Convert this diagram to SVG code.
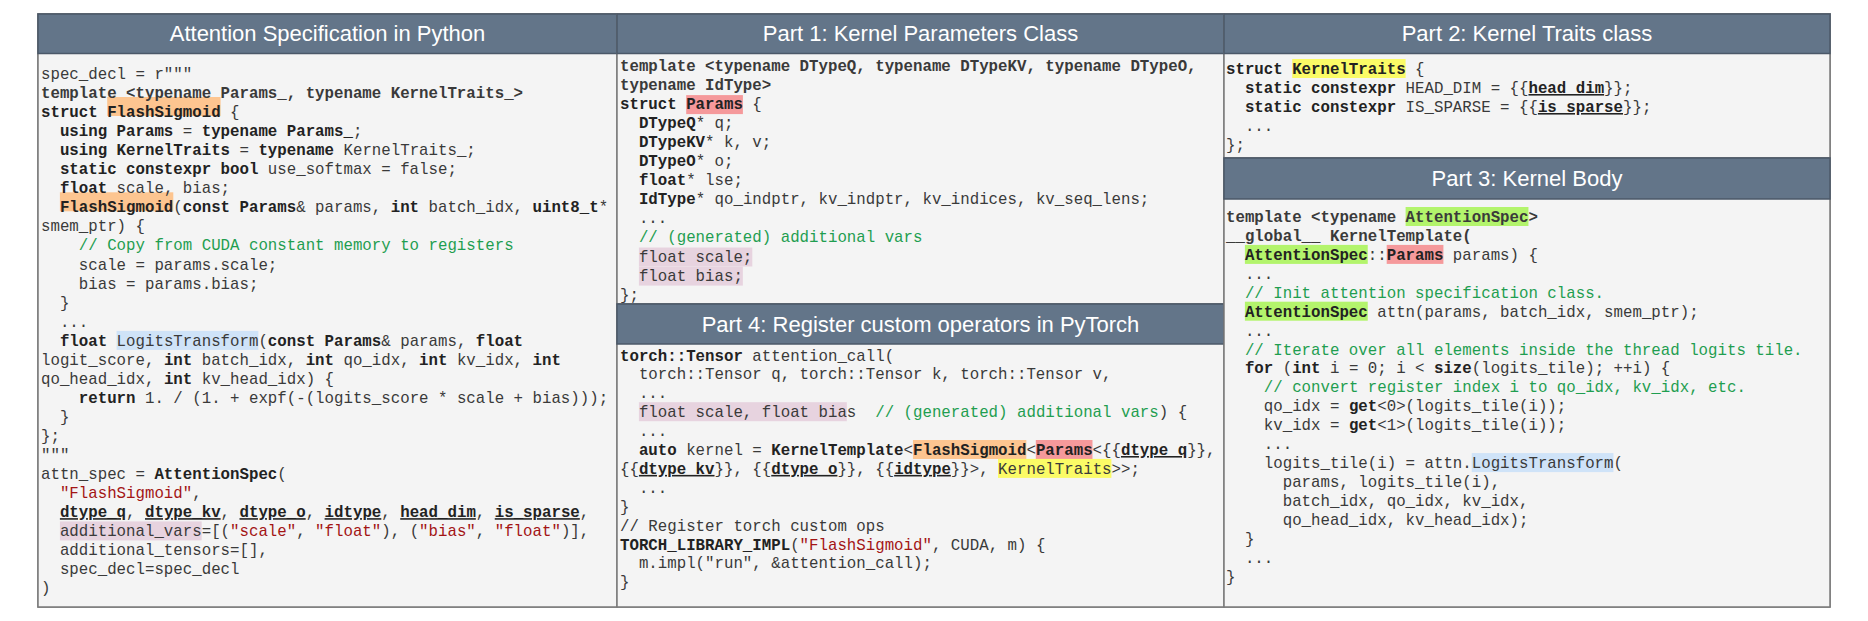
<svg xmlns="http://www.w3.org/2000/svg" width="1868" height="621" viewBox="0 0 1868 621">
<style>
.hd{fill:#637589;stroke:#4b5868;stroke-width:1.5}
.bd{fill:#f4f4f4;stroke:#7a7a7a;stroke-width:1.5}
.ht{font-family:"Liberation Sans",Arial,sans-serif;font-size:22px;fill:#ffffff;text-anchor:middle}
.code text{font-family:"Liberation Mono","DejaVu Sans Mono",monospace;font-size:15.75px;fill:#3a3a3a;white-space:pre}
.b{font-weight:bold;fill:#222}
.u{font-weight:bold;fill:#222;text-decoration:underline}
.c{fill:#1f9e50}
.s{fill:#a31515}
.or{fill:#fdc590}.rd{fill:#f5999b}.ye{fill:#fbfb66}.gr{fill:#b3f46c}.bl{fill:#cfe3f8}.mv{fill:#e7d3df}
</style>
<rect x="38" y="14" width="1792" height="593" fill="#f4f4f4" stroke="#7a7a7a" stroke-width="1.5"/>

<g id="panel-python">
<rect class="bd" x="38" y="14" width="579" height="593"/>
<rect class="hd" x="38" y="14" width="579" height="39.5"/>
<text class="ht" x="327.5" y="41">Attention Specification in Python</text>
<rect class="or" x="107.2" y="97" width="113.4" height="19"/>
<rect class="or" x="59.9" y="192.3" width="113.4" height="19"/>
<rect class="bl" x="116.6" y="330.9" width="141.75" height="19"/>
<rect class="mv" x="59.9" y="521.4" width="141.75" height="19"/>
<g class="code">
<text x="41" y="79">spec_decl = r"""</text>
<text x="41" y="98.05" class="b">template &lt;typename Params_, typename KernelTraits_&gt;</text>
<text x="41" y="117.1"><tspan class="b">struct FlashSigmoid</tspan> {</text>
<text x="41" y="136.15">  <tspan class="b">using Params</tspan> = <tspan class="b">typename Params_</tspan>;</text>
<text x="41" y="155.2">  <tspan class="b">using KernelTraits</tspan> = <tspan class="b">typename</tspan> KernelTraits_;</text>
<text x="41" y="174.25">  <tspan class="b">static constexpr bool</tspan> use_softmax = false;</text>
<text x="41" y="193.3">  <tspan class="b">float</tspan> scale, bias;</text>
<text x="41" y="212.35">  <tspan class="b">FlashSigmoid</tspan>(<tspan class="b">const Params</tspan>&amp; params, <tspan class="b">int</tspan> batch_idx, <tspan class="b">uint8_t</tspan>*</text>
<text x="41" y="231.4">smem_ptr) {</text>
<text x="41" y="250.45">    <tspan class="c">// Copy from CUDA constant memory to registers</tspan></text>
<text x="41" y="269.5">    scale = params.scale;</text>
<text x="41" y="288.55">    bias = params.bias;</text>
<text x="41" y="307.6">  }</text>
<text x="41" y="326.65">  ...</text>
<text x="41" y="345.7">  <tspan class="b">float</tspan> LogitsTransform(<tspan class="b">const Params</tspan>&amp; params, <tspan class="b">float</tspan></text>
<text x="41" y="364.75">logit_score, <tspan class="b">int</tspan> batch_idx, <tspan class="b">int</tspan> qo_idx, <tspan class="b">int</tspan> kv_idx, <tspan class="b">int</tspan></text>
<text x="41" y="383.8">qo_head_idx, <tspan class="b">int</tspan> kv_head_idx) {</text>
<text x="41" y="402.85">    <tspan class="b">return</tspan> 1. / (1. + expf(-(logits_score * scale + bias)));</text>
<text x="41" y="421.9">  }</text>
<text x="41" y="440.95">};</text>
<text x="41" y="460">"""</text>
<text x="41" y="479.05">attn_spec = <tspan class="b">AttentionSpec</tspan>(</text>
<text x="41" y="498.1">  <tspan class="s">"FlashSigmoid"</tspan>,</text>
<text x="41" y="517.15">  <tspan class="u">dtype_q</tspan>, <tspan class="u">dtype_kv</tspan>, <tspan class="u">dtype_o</tspan>, <tspan class="u">idtype</tspan>, <tspan class="u">head_dim</tspan>, <tspan class="u">is_sparse</tspan>,</text>
<text x="41" y="536.2">  additional_vars=[(<tspan class="s">"scale"</tspan>, <tspan class="s">"float"</tspan>), (<tspan class="s">"bias"</tspan>, <tspan class="s">"float"</tspan>)],</text>
<text x="41" y="555.25">  additional_tensors=[],</text>
<text x="41" y="574.3">  spec_decl=spec_decl</text>
<text x="41" y="593.35">)</text>
</g>
</g>

<g id="panel-part1">
<rect class="bd" x="617" y="14" width="607" height="290"/>
<rect class="hd" x="617" y="14" width="607" height="39.5"/>
<text class="ht" x="920.5" y="41">Part 1: Kernel Parameters Class</text>
<rect class="rd" x="686.2" y="95.1" width="56.7" height="19"/>
<rect class="mv" x="638.9" y="247.5" width="113.4" height="19"/>
<rect class="mv" x="638.9" y="266.6" width="103.95" height="19"/>
<g class="code">
<text x="620" y="71" class="b">template &lt;typename DTypeQ, typename DTypeKV, typename DTypeO,</text>
<text x="620" y="90.05" class="b">typename IdType&gt;</text>
<text x="620" y="109.1"><tspan class="b">struct Params</tspan> {</text>
<text x="620" y="128.15">  <tspan class="b">DTypeQ</tspan>* q;</text>
<text x="620" y="147.2">  <tspan class="b">DTypeKV</tspan>* k, v;</text>
<text x="620" y="166.25">  <tspan class="b">DTypeO</tspan>* o;</text>
<text x="620" y="185.3">  <tspan class="b">float</tspan>* lse;</text>
<text x="620" y="204.35">  <tspan class="b">IdType</tspan>* qo_indptr, kv_indptr, kv_indices, kv_seq_lens;</text>
<text x="620" y="223.4">  ...</text>
<text x="620" y="242.45">  <tspan class="c">// (generated) additional vars</tspan></text>
<text x="620" y="261.5">  float scale;</text>
<text x="620" y="280.55">  float bias;</text>
<text x="620" y="299.6">};</text>
</g>
</g>

<g id="panel-part4">
<rect class="bd" x="617" y="304" width="607" height="303"/>
<rect class="hd" x="617" y="304" width="607" height="40"/>
<text class="ht" x="920.5" y="332">Part 4: Register custom operators in PyTorch</text>
<rect class="mv" x="638.9" y="402.2" width="207.9" height="19"/>
<rect class="or" x="912.95" y="440" width="113.4" height="19"/>
<rect class="rd" x="1035.8" y="440" width="56.7" height="19"/>
<rect class="ye" x="998" y="458.9" width="113.4" height="19"/>
<g class="code">
<text x="620" y="360.5"><tspan class="b">torch::Tensor</tspan> attention_call(</text>
<text x="620" y="379.4">  torch::Tensor q, torch::Tensor k, torch::Tensor v,</text>
<text x="620" y="398.3">  ...</text>
<text x="620" y="417.2">  float scale, float bias  <tspan class="c">// (generated) additional vars</tspan>) {</text>
<text x="620" y="436.1">  ...</text>
<text x="620" y="455"><tspan>  </tspan><tspan class="b">auto</tspan> kernel = <tspan class="b">KernelTemplate</tspan>&lt;<tspan class="b">FlashSigmoid</tspan>&lt;<tspan class="b">Params</tspan>&lt;{{<tspan class="u">dtype_q</tspan>}},</text>
<text x="620" y="473.9">{{<tspan class="u">dtype_kv</tspan>}}, {{<tspan class="u">dtype_o</tspan>}}, {{<tspan class="u">idtype</tspan>}}&gt;, KernelTraits&gt;&gt;;</text>
<text x="620" y="492.8">  ...</text>
<text x="620" y="511.7">}</text>
<text x="620" y="530.6" class="c">// Register torch custom ops</text>
<text x="620" y="549.5"><tspan class="b">TORCH_LIBRARY_IMPL</tspan>(<tspan class="s">"FlashSigmoid"</tspan>, CUDA, m) {</text>
<text x="620" y="568.4">  m.impl("run", &amp;attention_call);</text>
<text x="620" y="587.3">}</text>
</g>
</g>

<g id="panel-part2">
<rect class="bd" x="1224" y="14" width="606" height="144"/>
<rect class="hd" x="1224" y="14" width="606" height="39.5"/>
<text class="ht" x="1527" y="41">Part 2: Kernel Traits class</text>
<rect class="ye" x="1292.2" y="59" width="113.4" height="19"/>
<g class="code">
<text x="1226" y="74"><tspan class="b">struct KernelTraits</tspan> {</text>
<text x="1226" y="93">  <tspan class="b">static constexpr</tspan> HEAD_DIM = {{<tspan class="u">head_dim</tspan>}};</text>
<text x="1226" y="112">  <tspan class="b">static constexpr</tspan> IS_SPARSE = {{<tspan class="u">is_sparse</tspan>}};</text>
<text x="1226" y="131">  ...</text>
<text x="1226" y="150">};</text>
</g>
</g>

<g id="panel-part3">
<rect class="bd" x="1224" y="158" width="606" height="449"/>
<rect class="hd" x="1224" y="158" width="606" height="41"/>
<text class="ht" x="1527" y="186">Part 3: Kernel Body</text>
<rect class="gr" x="1405.6" y="207" width="122.85" height="19"/>
<rect class="gr" x="1244.9" y="244.9" width="122.85" height="19"/>
<rect class="rd" x="1386.7" y="244.9" width="56.7" height="19"/>
<rect class="gr" x="1244.9" y="301.7" width="122.85" height="19"/>
<rect class="bl" x="1471.7" y="453.1" width="141.75" height="19"/>
<g class="code">
<text x="1226" y="222" class="b">template &lt;typename AttentionSpec&gt;</text>
<text x="1226" y="240.93" class="b">__global__ KernelTemplate(</text>
<text x="1226" y="259.86">  <tspan class="b">AttentionSpec</tspan>::<tspan class="b">Params</tspan> params) {</text>
<text x="1226" y="278.79">  ...</text>
<text x="1226" y="297.72">  <tspan class="c">// Init attention specification class.</tspan></text>
<text x="1226" y="316.65">  <tspan class="b">AttentionSpec</tspan> attn(params, batch_idx, smem_ptr);</text>
<text x="1226" y="335.58">  ...</text>
<text x="1226" y="354.51">  <tspan class="c">// Iterate over all elements inside the thread logits tile.</tspan></text>
<text x="1226" y="373.44">  <tspan class="b">for</tspan> (<tspan class="b">int</tspan> i = 0; i &lt; <tspan class="b">size</tspan>(logits_tile); ++i) {</text>
<text x="1226" y="392.37">    <tspan class="c">// convert register index i to qo_idx, kv_idx, etc.</tspan></text>
<text x="1226" y="411.3">    qo_idx = <tspan class="b">get</tspan>&lt;0&gt;(logits_tile(i));</text>
<text x="1226" y="430.23">    kv_idx = <tspan class="b">get</tspan>&lt;1&gt;(logits_tile(i));</text>
<text x="1226" y="449.16">    ...</text>
<text x="1226" y="468.09">    logits_tile(i) = attn.LogitsTransform(</text>
<text x="1226" y="487.02">      params, logits_tile(i),</text>
<text x="1226" y="505.95">      batch_idx, qo_idx, kv_idx,</text>
<text x="1226" y="524.88">      qo_head_idx, kv_head_idx);</text>
<text x="1226" y="543.81">  }</text>
<text x="1226" y="562.74">  ...</text>
<text x="1226" y="581.67">}</text>
</g>
</g>
<g id="connectors"/>
</svg>
